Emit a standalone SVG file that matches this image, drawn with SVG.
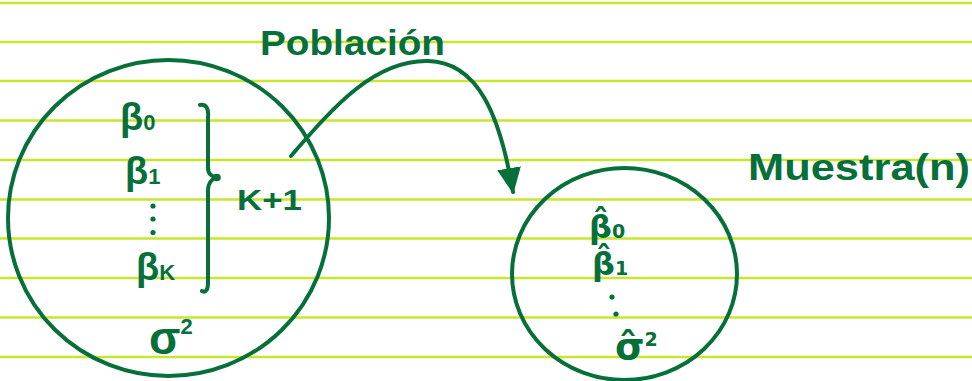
<svg xmlns="http://www.w3.org/2000/svg" width="972" height="381" viewBox="0 0 972 381">
<style>
.rule{stroke:#c9e62e;stroke-width:2.4}
.ink{fill:none;stroke:#07703a;stroke-width:4;stroke-linecap:round;stroke-linejoin:round}
.t{fill:#07703a;font-family:"Liberation Sans","DejaVu Sans",sans-serif;font-weight:bold}
.h{fill:#07703a;font-family:"DejaVu Sans",sans-serif;font-weight:bold}
.dot{fill:#07703a}
</style>
<defs>
<marker id="ah" markerWidth="6.5" markerHeight="6" refX="6" refY="3" orient="auto" markerUnits="strokeWidth">
<path d="M0,0 L6.5,3 L0,6 z" fill="#07703a"/>
</marker>
</defs>
<rect width="972" height="381" fill="#ffffff"/>
<g id="ruling">
<line class="rule" x1="0" y1="3" x2="972" y2="3"/>
<line class="rule" x1="0" y1="42" x2="972" y2="42"/>
<line class="rule" x1="0" y1="81" x2="972" y2="81"/>
<line class="rule" x1="0" y1="120.5" x2="972" y2="120.5"/>
<line class="rule" x1="0" y1="160" x2="972" y2="160"/>
<line class="rule" x1="0" y1="199.5" x2="972" y2="199.5"/>
<line class="rule" x1="0" y1="238.5" x2="972" y2="238.5"/>
<line class="rule" x1="0" y1="278" x2="972" y2="278"/>
<line class="rule" x1="0" y1="317.5" x2="972" y2="317.5"/>
<line class="rule" x1="0" y1="357" x2="972" y2="357"/>
</g>
<g id="poblacion">
<ellipse class="ink" cx="168.5" cy="218" rx="160.5" ry="158"/>
<text class="t" x="120" y="130" font-size="38">β<tspan font-size="22">0</tspan></text>
<text class="t" x="125" y="184" font-size="38">β<tspan font-size="22">1</tspan></text>
<circle class="dot" cx="153" cy="206" r="2.6"/>
<circle class="dot" cx="153" cy="219" r="2.6"/>
<circle class="dot" cx="153" cy="232.5" r="2.6"/>
<text class="t" x="136" y="280" font-size="38">β<tspan font-size="22">K</tspan></text>
<text class="t" x="149" y="354" font-size="46">σ<tspan font-size="22" dy="-20">2</tspan></text>
<path class="ink" d="M200,105 C206,104 209,108 208,118 L208,168 C208,174 212,177 217,177 C212,179 208,182 208,190 L208,282 C208,290 206,293 202,291"/>
<circle class="ink" cx="217" cy="177.5" r="1.8" stroke-width="2.5"/>
<text class="t" x="237" y="210" font-size="30" textLength="65" lengthAdjust="spacingAndGlyphs">K+1</text>
</g>
<g id="label-poblacion">
<text class="t" x="260" y="55" font-size="35" textLength="185" lengthAdjust="spacingAndGlyphs">Población</text>
</g>
<g id="muestra">
<ellipse class="ink" cx="624.5" cy="274" rx="112.5" ry="106"/>
<text class="h" x="589" y="238" font-size="32">β̂<tspan font-size="19">0</tspan></text>
<text class="h" x="592" y="275" font-size="32">β̂<tspan font-size="19">1</tspan></text>
<circle class="dot" cx="612" cy="297" r="2.6"/>
<circle class="dot" cx="616" cy="314" r="2.6"/>
<text class="h" x="615" y="359" font-size="38">σ̂<tspan font-size="19" dy="-13">2</tspan></text>
</g>
<g id="label-muestra">
<text class="t" x="748" y="180" font-size="36" textLength="222" lengthAdjust="spacingAndGlyphs">Muestra(n)</text>
</g>
<g id="connectors">
<path class="ink" d="M291,156 C335,105 375,60 428,61 C478,62 500,115 513,192" marker-end="url(#ah)"/>
</g>
</svg>
